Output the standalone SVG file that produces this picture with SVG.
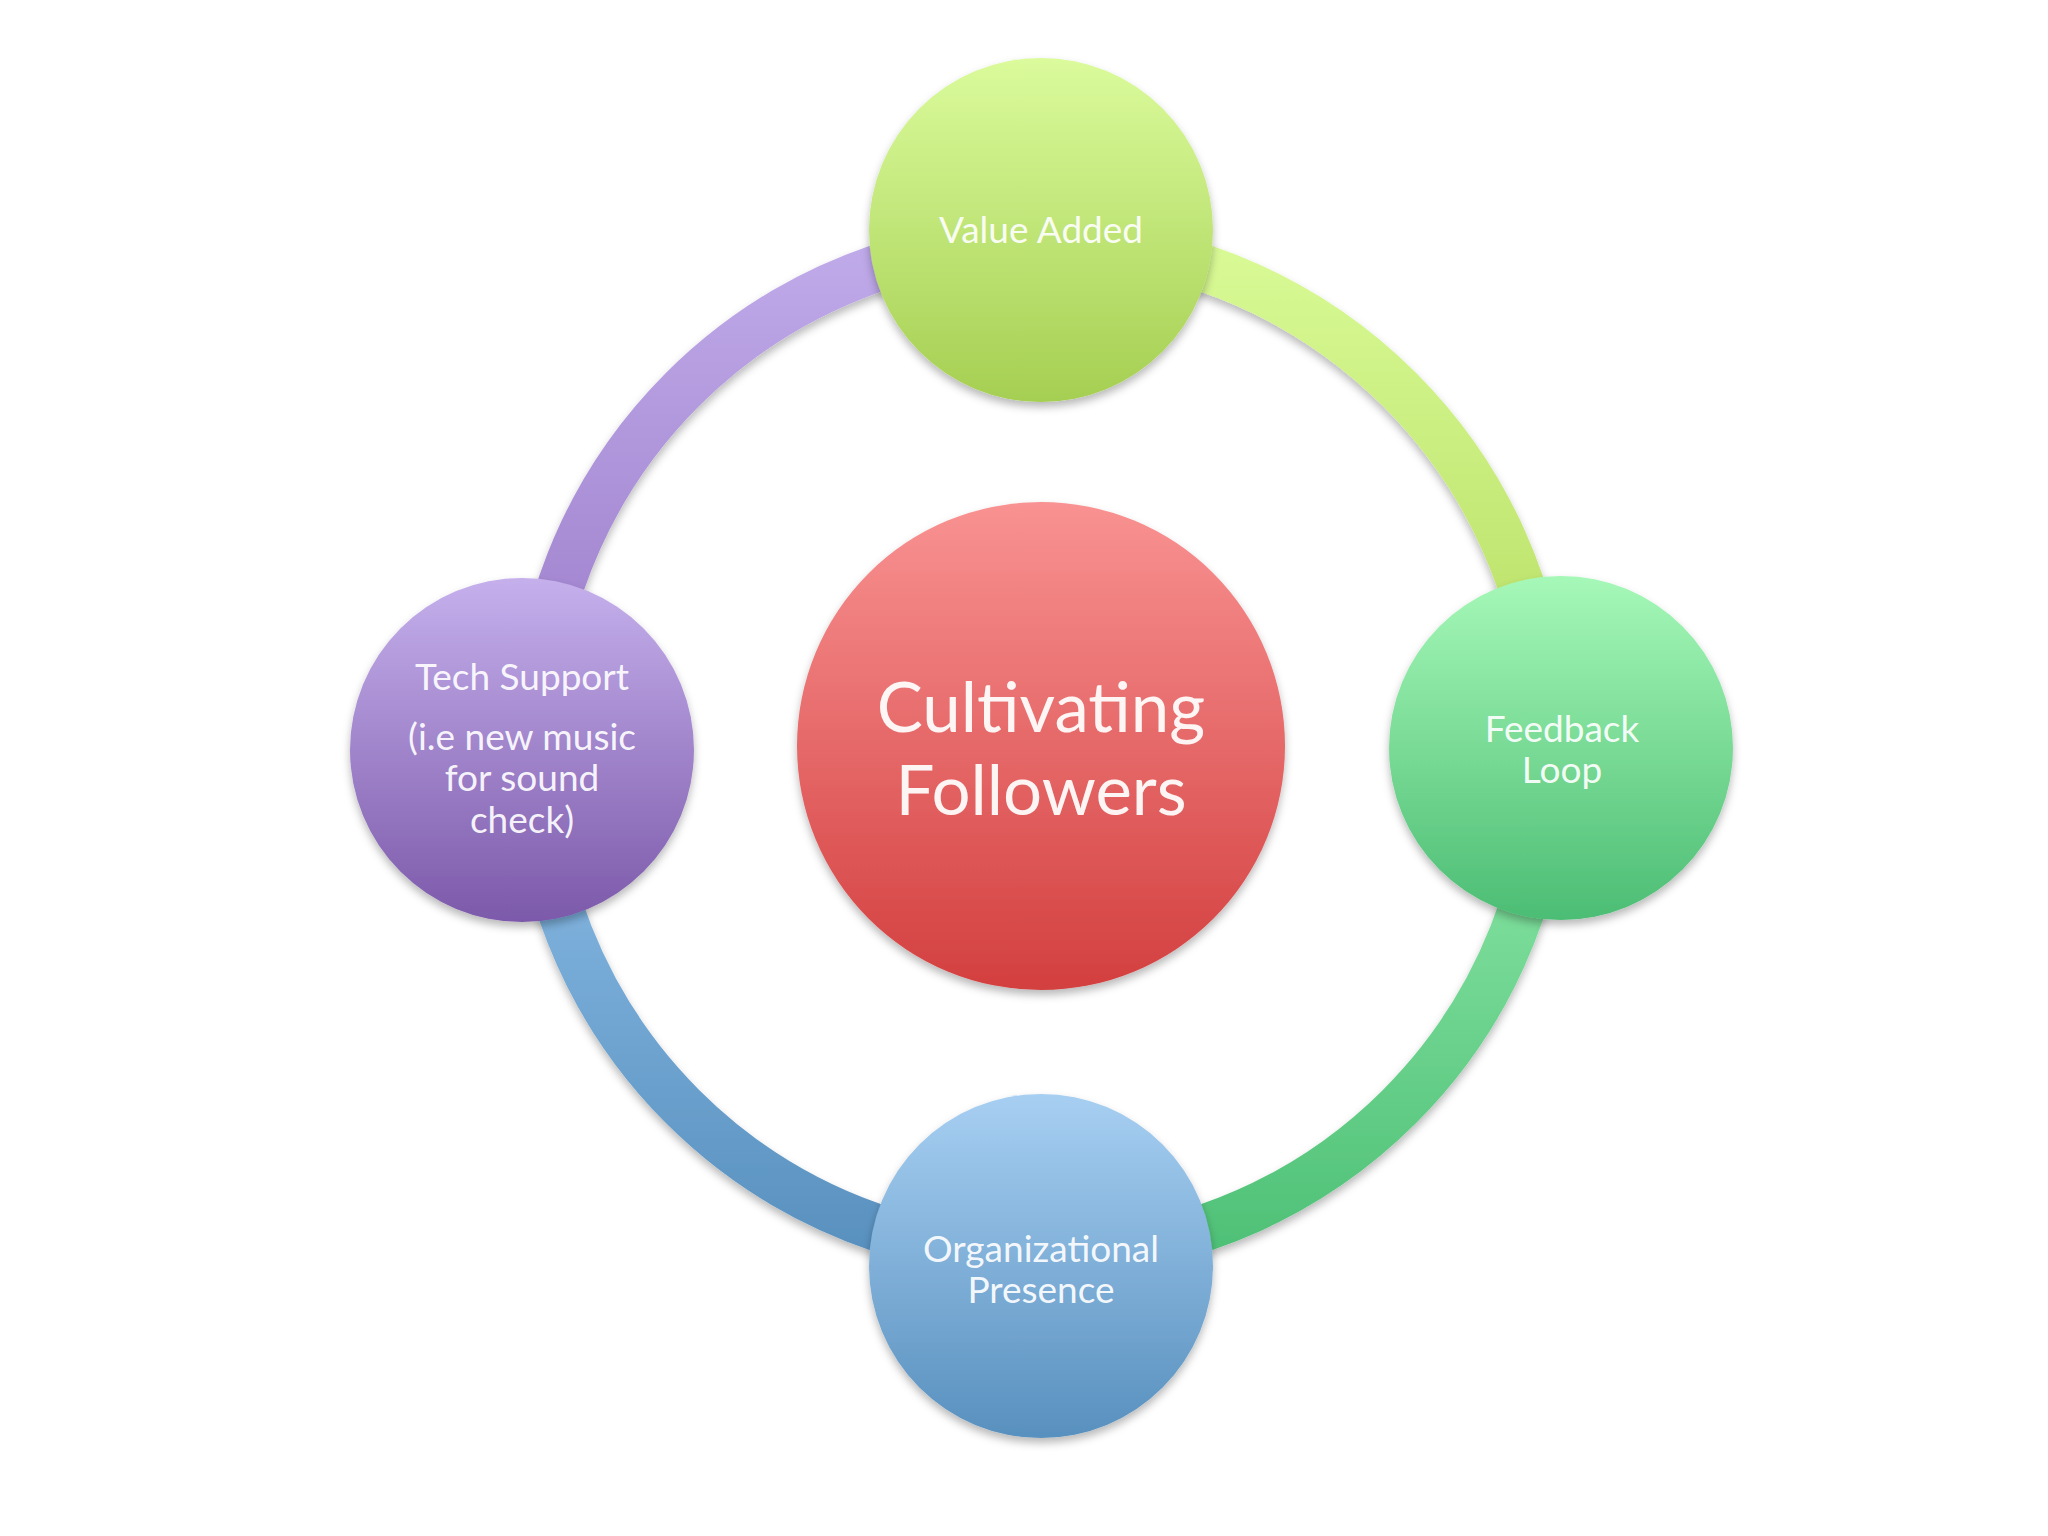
<svg xmlns="http://www.w3.org/2000/svg" width="2048" height="1536" viewBox="0 0 2048 1536">
<defs>
  <filter id="shadow" x="-20%" y="-20%" width="140%" height="140%">
    <feDropShadow dx="0" dy="5" stdDeviation="4" flood-color="#000" flood-opacity="0.28"/>
  </filter>
  <linearGradient id="gTop" x1="0" y1="0" x2="0" y2="1">
    <stop offset="0" stop-color="#DBFB9C"/>
    <stop offset="1" stop-color="#A5CF52"/>
  </linearGradient>
  <linearGradient id="gCenter" x1="0" y1="0" x2="0" y2="1">
    <stop offset="0" stop-color="#F99292"/>
    <stop offset="1" stop-color="#D33F3F"/>
  </linearGradient>
  <linearGradient id="gLeft" x1="0" y1="0" x2="0" y2="1">
    <stop offset="0" stop-color="#C5B0EC"/>
    <stop offset="1" stop-color="#7C59AA"/>
  </linearGradient>
  <linearGradient id="gRight" x1="0" y1="0" x2="0" y2="1">
    <stop offset="0" stop-color="#A6F8B8"/>
    <stop offset="1" stop-color="#4CBD74"/>
  </linearGradient>
  <linearGradient id="gBottom" x1="0" y1="0" x2="0" y2="1">
    <stop offset="0" stop-color="#A7CFF2"/>
    <stop offset="1" stop-color="#5890BE"/>
  </linearGradient>
  <linearGradient id="aPurple" gradientUnits="userSpaceOnUse" x1="0" y1="241" x2="0" y2="748">
    <stop offset="0" stop-color="#C0ABEA"/>
    <stop offset="1" stop-color="#9878C6"/>
  </linearGradient>
  <linearGradient id="aLime" gradientUnits="userSpaceOnUse" x1="0" y1="241" x2="0" y2="748">
    <stop offset="0" stop-color="#D9FA96"/>
    <stop offset="1" stop-color="#B4DC5E"/>
  </linearGradient>
  <linearGradient id="aGreen" gradientUnits="userSpaceOnUse" x1="0" y1="748" x2="0" y2="1255">
    <stop offset="0" stop-color="#90EAAA"/>
    <stop offset="1" stop-color="#4EC076"/>
  </linearGradient>
  <linearGradient id="aBlue" gradientUnits="userSpaceOnUse" x1="0" y1="748" x2="0" y2="1255">
    <stop offset="0" stop-color="#8EBFE9"/>
    <stop offset="1" stop-color="#5890BE"/>
  </linearGradient>
</defs>
<style>
  .arc { fill: none; stroke-width: 47; filter: url(#shadow); }
  .node { filter: url(#shadow); }
  .lbl { font-family: Lato, "Open Sans", "Liberation Sans", sans-serif; fill: #FFFFFF; fill-opacity: 0.93; text-anchor: middle; font-size: 37px; }
  .big { font-size: 69px; }
</style>
<rect width="2048" height="1536" fill="#FFFFFF"/>
<g id="connectors">
  <path class="arc" stroke="url(#aPurple)" d="M 534 748 A 507 507 0 0 1 1041 241"/>
  <path class="arc" stroke="url(#aLime)" d="M 1041 241 A 507 507 0 0 1 1548 748"/>
  <path class="arc" stroke="url(#aGreen)" d="M 1548 748 A 507 507 0 0 1 1041 1255"/>
  <path class="arc" stroke="url(#aBlue)" d="M 1041 1255 A 507 507 0 0 1 534 748"/>
</g>
<g id="center">
  <circle class="node" cx="1041" cy="746" r="244" fill="url(#gCenter)"/>
  <text class="lbl big" x="1041" y="732">Cultivating</text>
  <text class="lbl big" x="1041" y="815">Followers</text>
</g>
<g id="value-added">
  <circle class="node" cx="1041" cy="230" r="172" fill="url(#gTop)"/>
  <text class="lbl" x="1041" y="243">Value Added</text>
</g>
<g id="feedback-loop">
  <circle class="node" cx="1561" cy="748" r="172" fill="url(#gRight)"/>
  <text class="lbl" x="1562" y="742">Feedback</text>
  <text class="lbl" x="1562" y="783">Loop</text>
</g>
<g id="organizational-presence">
  <circle class="node" cx="1041" cy="1266" r="172" fill="url(#gBottom)"/>
  <text class="lbl" x="1041" y="1262">Organizational</text>
  <text class="lbl" x="1041" y="1303">Presence</text>
</g>
<g id="tech-support">
  <circle class="node" cx="522" cy="750" r="172" fill="url(#gLeft)"/>
  <text class="lbl" x="522" y="690">Tech Support</text>
  <text class="lbl" x="522" y="750">(i.e new music</text>
  <text class="lbl" x="522" y="791">for sound</text>
  <text class="lbl" x="522" y="833">check)</text>
</g>
</svg>
